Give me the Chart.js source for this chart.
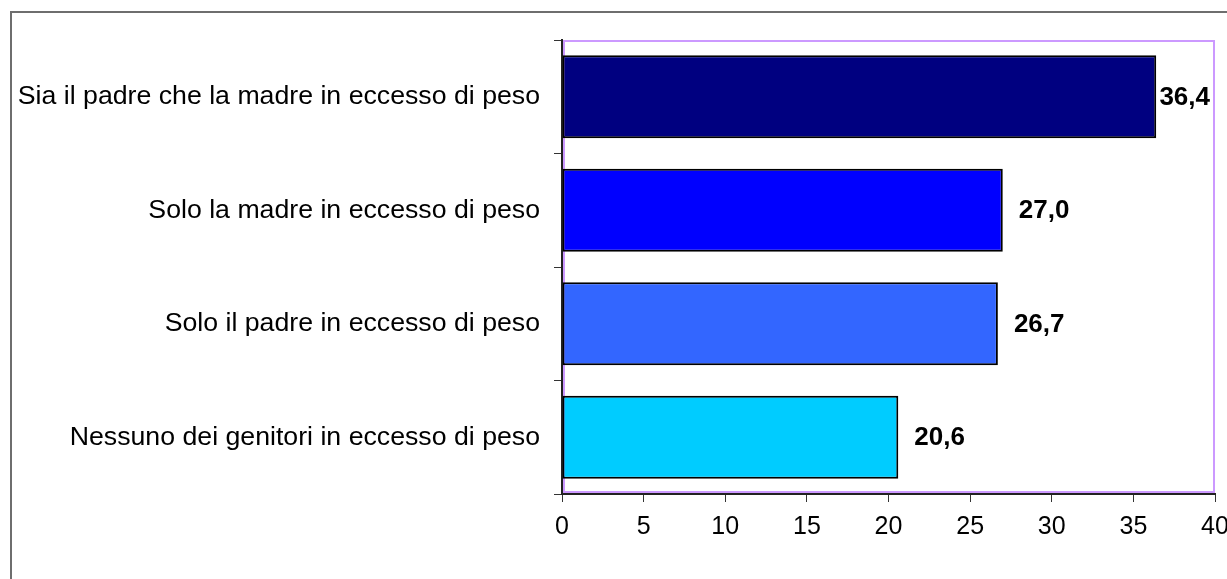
<!DOCTYPE html>
<html>
<head>
<meta charset="utf-8">
<script src="https://cdn.jsdelivr.net/npm/chart.js@4/dist/chart.umd.min.js"></script>
<style>
  html, body { margin: 0; padding: 0; background: #fff; }
  #wrap { position: relative; width: 1227px; height: 579px; overflow: hidden; }
  #frame { position: absolute; left: 10px; top: 11px; width: 1300px; height: 700px;
           border: 2px solid #6e6e6e; box-sizing: border-box; }
  canvas { position: absolute; left: 0; top: 0; }
</style>
</head>
<body>
<div id="wrap">
  <div id="frame"></div>
  <canvas id="c" width="1227" height="579"></canvas>
</div>
<script>
// Obesity share among children by parents' weight status (%)
const categories = [
  'Sia il padre che la madre in eccesso di peso',
  'Solo la madre in eccesso di peso',
  'Solo il padre in eccesso di peso',
  'Nessuno dei genitori in eccesso di peso'
];
const values = [36.4, 27.0, 26.7, 20.6];
const barColors = ['#000080', '#0000ff', '#3366ff', '#00ccff'];
const xTicks = [0, 5, 10, 15, 20, 25, 30, 35, 40];

const FONT = "Arial, 'Liberation Sans', sans-serif";

// Plot frame, drawn first so the axis lines sit on top of it
const plotFrame = {
  id: 'plotFrame',
  beforeDraw(chart) {
    const a = chart.chartArea, ctx = chart.ctx;
    ctx.save();
    ctx.strokeStyle = '#cc99ff';
    ctx.lineWidth = 2;
    ctx.strokeRect(a.left + 2, a.top + 1, a.right - a.left - 3, a.bottom - a.top - 3);
    ctx.restore();
  }
};

// Value labels to the right of each bar, comma decimal
const valueLabels = {
  id: 'valueLabels',
  afterDatasetsDraw(chart) {
    const ctx = chart.ctx, a = chart.chartArea;
    const meta = chart.getDatasetMeta(0);
    ctx.save();
    ctx.font = 'bold 26px ' + FONT;
    ctx.fillStyle = '#000';
    ctx.textBaseline = 'middle';
    ctx.textAlign = 'left';
    meta.data.forEach((bar, i) => {
      const txt = values[i].toFixed(1).replace('.', ',');
      const w = ctx.measureText(txt).width;
      let x = bar.x + 16;
      if (x + w > a.right - 5) x = a.right - 5 - w;
      ctx.fillText(txt, x, bar.y + 1);
    });
    ctx.restore();
  }
};

new Chart(document.getElementById('c'), {
  type: 'bar',
  data: {
    labels: categories,
    datasets: [{
      data: values,
      backgroundColor: barColors,
      borderColor: '#000',
      borderWidth: 2,
      borderSkipped: false,
      categoryPercentage: 1,
      barPercentage: 0.73
    }]
  },
  options: {
    indexAxis: 'y',
    responsive: false,
    animation: false,
    layout: { padding: { left: 0, top: 40, right: 12, bottom: 0 } },
    plugins: { legend: { display: false }, tooltip: { enabled: false } },
    scales: {
      x: {
        type: 'linear',
        min: 0, max: 40,
        afterBuildTicks(scale) { scale.ticks = xTicks.map(v => ({ value: v })); },
        afterFit(scale) { scale.height = 579 - 494; scale.paddingLeft = 0; scale.paddingRight = 0; },
        grid: { drawOnChartArea: false, drawTicks: true, tickLength: 8, color: '#333', lineWidth: 1 },
        border: { display: true, color: '#222', width: 2 },
        ticks: { color: '#000', font: { family: FONT, size: 25 }, padding: 10, maxRotation: 0, autoSkip: false }
      },
      y: {
        offset: true,
        afterFit(scale) { scale.width = 562; scale.paddingTop = 0; scale.paddingBottom = 0; },
        grid: { offset: true, drawOnChartArea: false, drawTicks: true, tickLength: 8, color: '#333', lineWidth: 1 },
        border: { display: true, color: '#222', width: 2 },
        ticks: { color: '#000', font: { family: FONT, size: 26.7 }, padding: 14, autoSkip: false }
      }
    }
  },
  plugins: [plotFrame, valueLabels]
});
</script>
</body>
</html>
